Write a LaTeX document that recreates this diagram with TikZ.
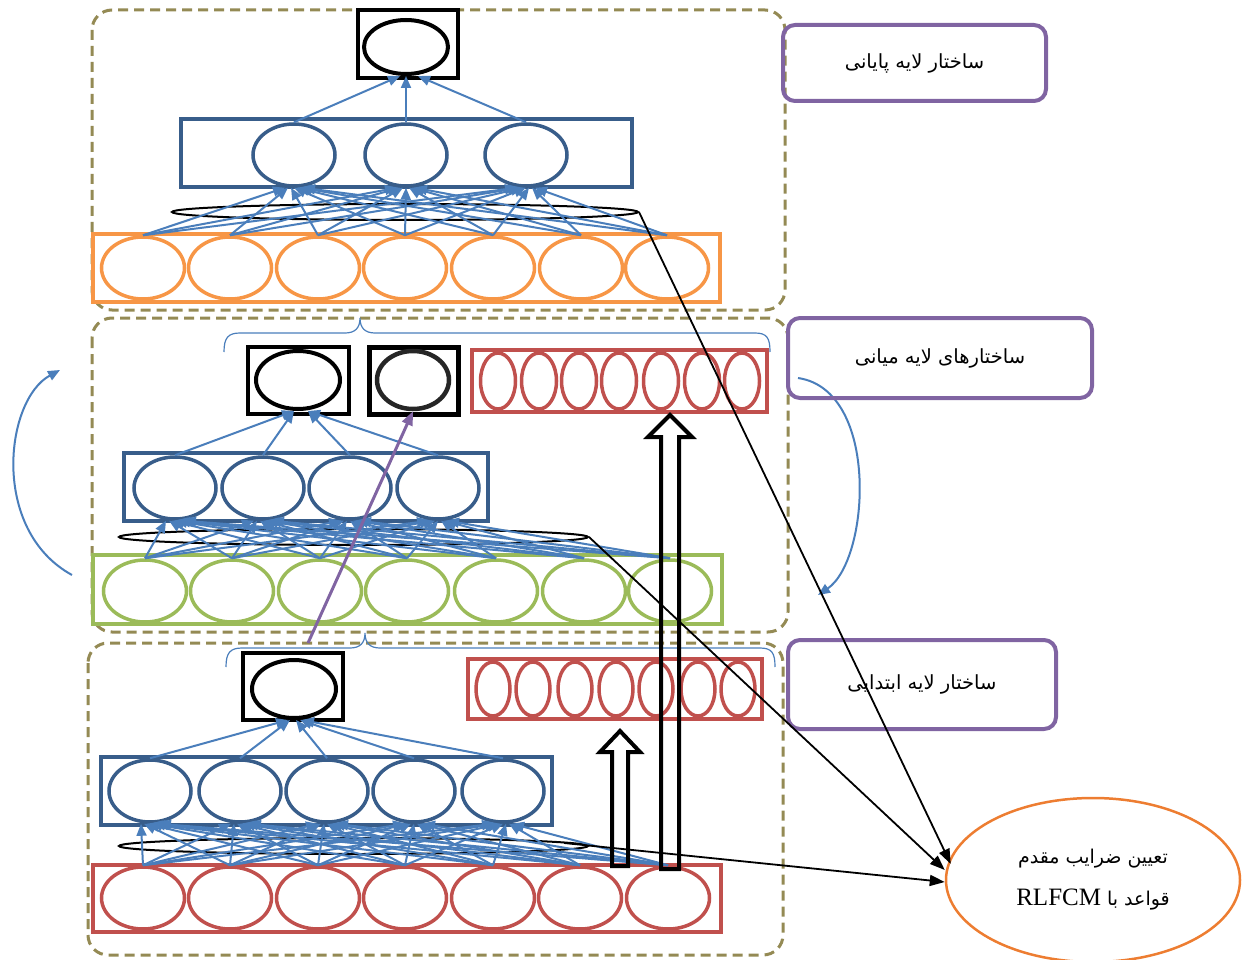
\documentclass[tikz,border=0pt]{standalone}
\usepackage{fontspec}
\setmainfont{Liberation Serif}
\newfontfamily\arabicfont[Script=Arabic]{DejaVu Sans}
\TeXXeTstate=1
\usetikzlibrary{shapes.geometric,arrows.meta}
\definecolor{dashol}{RGB}{148,138,84}
\definecolor{nblue}{RGB}{56,93,138}
\definecolor{cblue}{RGB}{74,126,187}
\definecolor{orng}{RGB}{247,150,70}
\definecolor{grn}{RGB}{155,187,89}
\definecolor{rd}{RGB}{192,80,77}
\definecolor{purp}{RGB}{128,100,162}
\definecolor{eorng}{RGB}{237,125,49}
\begin{document}
\begin{tikzpicture}[x=1pt,y=-1pt,
  dbox/.style={draw=dashol,line width=3pt,dash pattern=on 10pt off 6pt,rounded corners=20pt},
  lbox/.style={draw=purp,line width=4pt,rounded corners=12pt,inner sep=0pt,font=\arabicfont\fontsize{19.5}{23}\selectfont},
  bx/.style={draw=#1,line width=4pt,inner sep=0pt},
  ell/.style={ellipse,draw=#1,line width=3.5pt,inner sep=0pt,minimum width=83pt,minimum height=62pt},
  rell/.style={ellipse,draw=rd,line width=3.5pt,inner sep=0pt,minimum width=34pt,minimum height=54pt},
  conn/.style={draw=cblue,line width=2pt,-{Triangle[length=12pt,width=10pt]}},
  thinell/.style={ellipse,draw=black,line width=2pt,inner sep=0pt},
  blk/.style={draw=black,line width=1.8pt,-{Triangle[length=15pt,width=11pt]}},
  brace/.style={draw=cblue,line width=1.2pt},
  hollow/.style={draw=black,line width=4pt,line join=miter}
]
\useasboundingbox (0,0) rectangle (1242,960);

% dashed section frames
\draw[dbox] (92,10) rectangle (785,310);
\draw[dbox] (92,318) rectangle (788,632);
\draw[dbox] (88,643) rectangle (783,955);

% ===== top section =====
\node[bx=black,minimum width=100pt,minimum height=68pt] (Tbox) at (408,44) {};
\node[ell=black,line width=4pt,minimum width=84pt,minimum height=54pt] (T) at (406,47) {};
\node[bx=nblue,minimum width=451pt,minimum height=68pt] (TB) at (406.5,153) {};
\foreach \j/\x in {1/294,2/406,3/526}
  \node[ell=nblue,minimum width=82pt,minimum height=62pt] (tb\j) at (\x,155) {};
\node[thinell,minimum width=466pt,minimum height=16pt] (thT) at (405,212) {};
\node[bx=orng,minimum width=627pt,minimum height=68pt] (TO) at (406.5,268) {};
\foreach \i/\x in {1/143,2/230,3/318,4/405,5/493,6/581,7/667}
  \node[ell=orng] (o\i) at (\x,268) {};
\foreach \i in {1,...,7}
  \foreach \j in {1,2,3}
    \draw[conn] (o\i.north) -- ([xshift={(\i-4)*3pt}]tb\j.south);
\draw[conn] (tb1.north) -- ([xshift=-6pt]T.south);
\draw[conn] (tb2.north) -- (T.south);
\draw[conn] (tb3.north) -- ([xshift=12pt]T.south);

% ===== middle section =====
\draw[brace] (224,352) .. controls (224,338) and (228,333) .. (240,333) -- (345,333)
  .. controls (355,333) and (360,328) .. (360,318)
  .. controls (360,328) and (365,333) .. (375,333) -- (755,333)
  .. controls (767,333) and (770,338) .. (770,352);
\node[bx=black,minimum width=101pt,minimum height=67pt] (MB1) at (298.5,380.5) {};
\node[ell=black,line width=4pt,minimum width=84pt,minimum height=58pt] (m1) at (298,380) {};
\node[bx=black,line width=5pt,minimum width=89pt,minimum height=67pt] (MB2) at (413.5,380.5) {};
\node[ell=black!85,line width=4.5pt,minimum width=72pt,minimum height=58pt] (m2) at (413,380) {};
\node[bx=rd,minimum width=295pt,minimum height=62pt] (MR) at (619.5,381) {};
\foreach \i/\x in {1/498,2/539,3/579,4/619,5/661,6/702,7/742}
  \node[rell,minimum width=35pt,minimum height=56pt] (mr\i) at (\x,381) {};
\node[bx=nblue,minimum width=364pt,minimum height=68pt] (MBl) at (306,487) {};
\foreach \j/\x in {1/175,2/263,3/350,4/438}
  \node[ell=nblue,minimum width=82pt,minimum height=62pt] (mb\j) at (\x,488) {};
\node[thinell,minimum width=469pt,minimum height=16pt] (thM) at (353.5,537) {};
\node[bx=grn,minimum width=629pt,minimum height=69pt] (MG) at (407.5,589.5) {};
\foreach \i/\x in {1/145,2/232,3/320,4/407,5/496,6/584,7/670}
  \node[ell=grn] (g\i) at (\x,591) {};
\foreach \i in {1,...,7}
  \foreach \j in {1,2,3,4}
    \draw[conn] (g\i.north) -- ([xshift={(\i-4)*3pt}]mb\j.south);
\draw[conn] (mb1.north) -- ([xshift=-4pt]m1.south);
\draw[conn] (mb2.north) -- ([xshift=-4pt]m1.south);
\draw[conn] (mb3.north) -- ([xshift=10pt]m1.south);
\draw[conn] (mb4.north) -- ([xshift=10pt]m1.south);

% side arcs
\coordinate (la) at (72,575);
\coordinate (lb) at (60,370);
\draw[conn] (la) .. controls (-10,530) and (5,400) .. (lb);
\coordinate (ra) at (798,378);
\coordinate (rb) at (818,595);
\draw[conn] (ra) .. controls (880,390) and (870,560) .. (rb);

% ===== bottom section =====
\draw[brace] (226,667) .. controls (226,653) and (230,648) .. (242,648) -- (350,648)
  .. controls (360,648) and (365,643) .. (365,633)
  .. controls (365,643) and (370,648) .. (380,648) -- (760,648)
  .. controls (772,648) and (775,653) .. (775,667);
\node[bx=black,minimum width=100pt,minimum height=67pt] (BB) at (293,686.5) {};
\node[ell=black,line width=4pt,minimum width=84pt,minimum height=58pt] (bk) at (294,689) {};
\node[bx=rd,minimum width=294pt,minimum height=60pt] (BR) at (615,689) {};
\foreach \i/\x in {1/493,2/533,3/575,4/616,5/656,6/698,7/738}
  \node[rell] (br\i) at (\x,689) {};
\node[bx=nblue,minimum width=451pt,minimum height=68pt] (BBl) at (326.5,791) {};
\foreach \j/\x in {1/150,2/240,3/327,4/414,5/503}
  \node[ell=nblue,minimum width=82pt,minimum height=62pt] (bb\j) at (\x,791) {};
\node[thinell,minimum width=469pt,minimum height=16pt] (thB) at (353.5,846) {};
\node[bx=rd,minimum width=628pt,minimum height=67pt] (BRd) at (407,898.5) {};
\foreach \i/\x in {1/143,2/230,3/318,4/405,5/493,6/580,7/668}
  \node[ell=rd] (r\i) at (\x,898) {};
\foreach \i in {1,...,7}
  \foreach \j in {1,...,5}
    \draw[conn] (r\i.north) -- ([xshift={(\i-4)*3pt}]bb\j.south);
\foreach \j/\s in {1/-6,2/-4,3/2,4/6,5/8}
  \draw[conn] (bb\j.north) -- ([xshift=\s pt]bk.south);

% purple arrow
\draw[draw=purp,line width=3pt,-{Triangle[length=14pt,width=11pt]}] ([xshift=15pt,yshift=8pt]BB.north) -- (m2.south);

% hollow arrows
\draw[hollow] (661,869) -- (661,437) -- (648,437) -- (670,415) -- (692,437) -- (679,437) -- (679,869) -- cycle;
\draw[hollow] (612,866) -- (612,752) -- (600,752) -- (620,731) -- (640,752) -- (628,752) -- (628,866) -- cycle;

% labels
\node[lbox,minimum width=263pt,minimum height=76pt] (L1) at (914.5,63) {\beginR ساختار لایه پایانی\endR};
\node[lbox,minimum width=304pt,minimum height=80pt] (L2) at (940,358) {\beginR ساختارهای لایه میانی\endR};
\node[lbox,minimum width=268pt,minimum height=89pt] (L3) at (922,684.5) {\beginR ساختار لایه ابتدایی\endR};

% RLFCM ellipse
\node[ellipse,draw=eorng,line width=2.5pt,inner sep=0pt,minimum width=294pt,minimum height=164pt,align=center,font=\arabicfont\fontsize{19}{42}\selectfont] (R) at (1093,880)
  {\beginR تعیین ضرایب مقدم\endR\\ \beginR قواعد با \beginL{\rmfamily\fontsize{25}{42}\selectfont RLFCM}\endL\endR};

% black connectors
\draw[blk] (thT.east) -- ([xshift=6pt,yshift=16pt]R.west);
\draw[blk] (thM.east) -- ([yshift=10pt]R.west);
\draw[blk] ([xshift=-25pt,yshift=3pt]thB.east) -- ([yshift=-2pt]R.west);
\end{tikzpicture}
\end{document}
